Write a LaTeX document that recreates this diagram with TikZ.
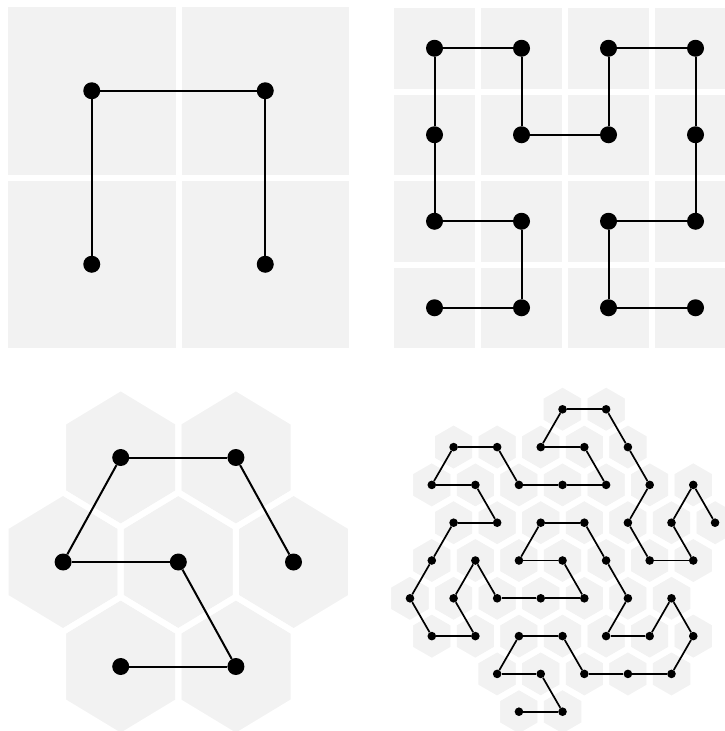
\documentclass[tikz,border=0pt]{standalone}
\definecolor{cellgray}{RGB}{242,242,242}
\newcommand\hexcell[4]{({#1},{#2-#4}) -- ({#1+#3},{#2-#4/2}) -- ({#1+#3},{#2+#4/2}) -- ({#1},{#2+#4}) -- ({#1-#3},{#2+#4/2}) -- ({#1-#3},{#2-#4/2}) -- cycle}
\begin{document}
\begin{tikzpicture}[x=1pt,y=-1pt,
  cellfill/.style={fill=cellgray,draw=none},
  cellgap/.style={draw=white,line width=6pt,line join=miter},
  bigdot/.style={circle,fill=black,inner sep=0pt,minimum size=17pt},
  smalldot/.style={circle,fill=black,inner sep=0pt,minimum size=8.6pt},
  biglink/.style={line width=2pt},
  smalllink/.style={line width=1.7pt}]
\useasboundingbox (0,0) rectangle (725,731);
\clip (0,0) rectangle (725,731);

% ---------- top left: 2x2 squares ----------
\foreach \i in {0,1} \foreach \j in {0,1}
  \fill[cellgray] ({5+173.5*\i},{4+173.5*\j}) rectangle ++(173.5,173.5);
\foreach \i in {0,1} \foreach \j in {0,1}
  \draw[cellgap] ({5+173.5*\i},{4+173.5*\j}) rectangle ++(173.5,173.5);
\foreach [count=\k] \i/\j in {0/1,0/0,1/0,1/1}
  \node[bigdot] (a\k) at ({91.75+173.5*\i},{90.75+173.5*\j}) {};
\draw[biglink] (a1) -- (a2) -- (a3) -- (a4);

% ---------- top right: 4x4 squares ----------
\foreach \i in {0,...,3} \foreach \j in {0,...,3}
  \fill[cellgray] ({391+87*\i},{5+86.5*\j}) rectangle ++(87,86.5);
\foreach \i in {0,...,3} \foreach \j in {0,...,3}
  \draw[cellgap] ({391+87*\i},{5+86.5*\j}) rectangle ++(87,86.5);
\foreach [count=\k] \i/\j in {0/3,1/3,1/2,0/2,0/1,0/0,1/0,1/1,2/1,2/0,3/0,3/1,3/2,2/2,2/3,3/3}
  \node[bigdot] (b\k) at ({434.5+87*\i},{48.25+86.5*\j}) {};
\foreach \k [remember=\k as \lastk (initially 1)] in {2,...,16}
  \draw[biglink] (b\lastk) -- (b\k);

% ---------- bottom left: 7 hexagons ----------
\foreach \x/\y in {120.7/457.5,235.9/457.5,63.1/562,178.3/562,293.5/562,120.7/666.5,235.9/666.5}
  \fill[cellgray] \hexcell{\x}{\y}{57.6}{69.67};
\foreach \x/\y in {120.7/457.5,235.9/457.5,63.1/562,178.3/562,293.5/562,120.7/666.5,235.9/666.5}
  \draw[cellgap] \hexcell{\x}{\y}{57.6}{69.67};
\foreach [count=\k] \x/\y in {120.7/666.5,235.9/666.5,178.3/562,63.1/562,120.7/457.5,235.9/457.5,293.5/562}
  \node[bigdot] (c\k) at (\x,\y) {};
\foreach \k [remember=\k as \lastk (initially 1)] in {2,...,7}
  \draw[biglink] (c\lastk) -- (c\k);

% ---------- bottom right: 49 hexagons ----------
\def\hexlist{14/3,13/2,12/3,13/4,11/4,10/3,11/2,10/1,9/0,7/0,6/1,8/1,9/2,7/2,5/2,4/1,2/1,1/2,3/2,4/3,2/3,1/4,0/5,1/6,3/6,2/5,3/4,4/5,6/5,8/5,7/4,5/4,6/3,8/3,9/4,10/5,9/6,11/6,12/5,13/6,12/7,10/7,8/7,7/6,5/6,4/7,6/7,7/8,5/8}
\foreach \i/\j in \hexlist
  \fill[cellgray] \hexcell{410+21.79*\i}{409.3+37.8*\j}{21.79}{25.16};
\foreach \i/\j in \hexlist
  \draw[cellgap] \hexcell{410+21.79*\i}{409.3+37.8*\j}{21.79}{25.16};
\foreach [count=\k] \i/\j in \hexlist
  \node[smalldot] (d\k) at ({410+21.79*\i},{409.3+37.8*\j}) {};
\foreach \k [remember=\k as \lastk (initially 1)] in {2,...,49}
  \draw[smalllink] (d\lastk) -- (d\k);
\end{tikzpicture}
\end{document}
